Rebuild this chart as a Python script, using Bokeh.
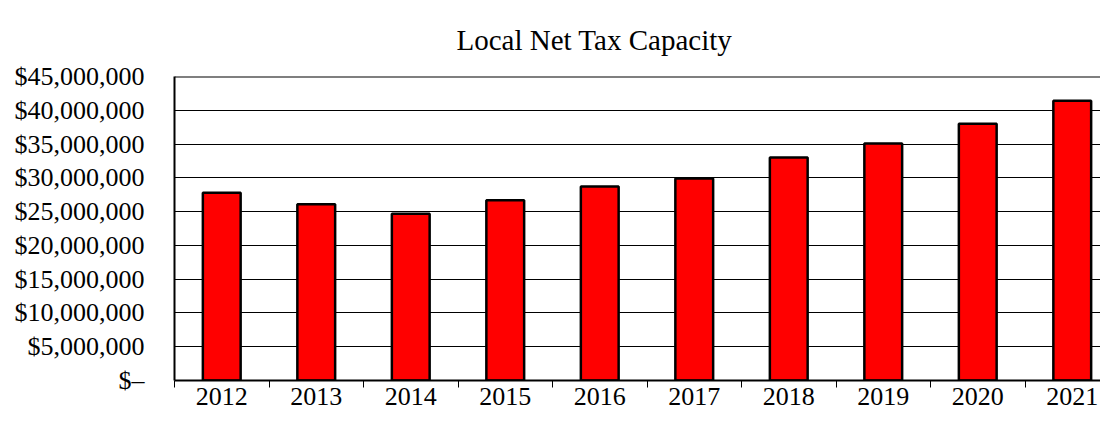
from bokeh.plotting import figure
from bokeh.models import Range1d, FixedTicker, Title, Span, NumeralTickFormatter
from bokeh.embed import file_html
from bokeh.resources import INLINE

# ---- data ----
years = ["2012", "2013", "2014", "2015", "2016", "2017", "2018", "2019", "2020", "2021"]
net_tax_capacity = [27.8e6, 26.1e6, 24.7e6, 26.7e6, 28.7e6, 29.9e6, 33.0e6, 35.1e6, 38.0e6, 41.4e6]
y_ticks = [0, 5e6, 10e6, 15e6, 20e6, 25e6, 30e6, 35e6, 40e6, 45e6]
y_tick_labels = ["$\u2013", "$5,000,000", "$10,000,000", "$15,000,000", "$20,000,000",
                 "$25,000,000", "$30,000,000", "$35,000,000", "$40,000,000", "$45,000,000"]
title_text = "Local Net Tax Capacity"

FONT = "Liberation Serif"

xpos = list(range(len(years)))

p = figure(width=1100, height=415, output_backend="svg", toolbar_location=None,
           x_range=Range1d(-0.5, -0.5 + 926 / 94.5), y_range=Range1d(0, 45e6),
           min_border_left=174, min_border_right=0, min_border_top=76, min_border_bottom=35)

p.title = Title(text=title_text, text_font=FONT, text_font_size="29px",
                text_font_style="normal", text_color="black", align="left",
                text_line_height=1.0, offset=282, standoff=42)

p.background_fill_color = "white"
p.border_fill_color = "white"
p.outline_line_color = None

p.vbar(x=xpos, top=net_tax_capacity, width=0.4, fill_color="#FF0000",
       line_color="black", line_width=2.5)

# top border
p.add_layout(Span(location=45e6, dimension="width", line_color="black", line_width=2))

# y axis
yax = p.left[0]
yax.ticker = FixedTicker(ticks=y_ticks)
yax.formatter = NumeralTickFormatter(format="$0,0")
yax.major_label_overrides = {t: lab for t, lab in zip(y_ticks, y_tick_labels)}
yax.major_tick_out = 0
yax.major_tick_in = 0
yax.minor_tick_line_color = None
yax.axis_line_color = "black"
yax.axis_line_width = 2
yax.major_label_standoff = 30
yax.major_label_text_font = FONT
yax.major_label_text_font_size = "26px"
yax.major_label_text_color = "black"

# x axis
xax = p.below[0]
xax.ticker = FixedTicker(ticks=xpos, minor_ticks=[i - 0.5 for i in range(len(years) + 1)])
xax.major_label_overrides = {i: y for i, y in zip(xpos, years)}
xax.major_tick_line_color = None
xax.major_tick_out = 7
xax.major_tick_in = 0
xax.minor_tick_line_color = "black"
xax.minor_tick_line_width = 1
xax.minor_tick_out = 7
xax.minor_tick_in = 0
xax.axis_line_color = "black"
xax.axis_line_width = 2
xax.major_label_standoff = 0
xax.major_label_text_font = FONT
xax.major_label_text_font_size = "26px"
xax.major_label_text_color = "black"

# grid
p.xgrid.grid_line_color = None
p.ygrid.ticker = FixedTicker(ticks=y_ticks)
p.ygrid.grid_line_color = "black"
p.ygrid.grid_line_width = 1

open("out.html", "w").write(file_html(p, INLINE))
